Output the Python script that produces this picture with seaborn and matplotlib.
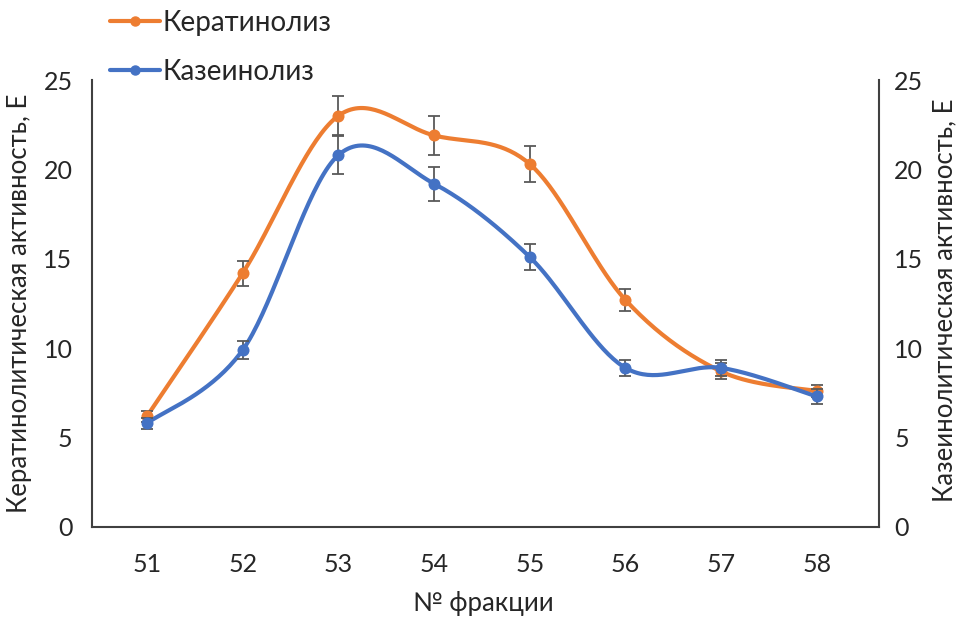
import numpy as np
import pandas as pd
import matplotlib
matplotlib.use("Agg")
import matplotlib.pyplot as plt
import seaborn as sns
from matplotlib.lines import Line2D

# Fractions and measured activities
fractions = ["51", "52", "53", "54", "55", "56", "57", "58"]
keratinolysis = [6.2, 14.2, 23.0, 21.9, 20.3, 12.7, 8.7, 7.6]
keratinolysis_err = [0.3, 0.7, 1.1, 1.1, 1.0, 0.6, 0.45, 0.35]
caseinolysis = [5.8, 9.9, 20.8, 19.2, 15.1, 8.9, 8.9, 7.3]
caseinolysis_err = [0.3, 0.5, 1.05, 0.95, 0.75, 0.45, 0.45, 0.4]

y_ticks = [0, 5, 10, 15, 20, 25]
label_left = "Кератинолитическая активность, Е"
label_right = "Казеинолитическая активность, Е"
label_x = "№ фракции"
name_k = "Кератинолиз"
name_c = "Казеинолиз"

ORANGE = "#ED7D31"
BLUE = "#4472C4"
ERR = "#595959"
TXT = "#262626"
FS_TICK = 18
FS_TITLE = 18.5
FS_LEG = 20

sns.set_theme(style="white")
plt.rcParams["font.family"] = ["Lato", "DejaVu Sans"]


def smooth_curve(xs, ys, n=40):
    """Catmull-Rom style cubic Bezier through every point."""
    xs = np.asarray(xs, float)
    ys = np.asarray(ys, float)
    P = np.column_stack([xs, ys])
    P_ext = np.vstack([P[0], P, P[-1]])
    out = []
    t = np.linspace(0, 1, n)[:, None]
    for i in range(len(P) - 1):
        p0, p1, p2, p3 = P_ext[i], P_ext[i + 1], P_ext[i + 2], P_ext[i + 3]
        b0 = p1
        b1 = p1 + (p2 - p0) / 6.0
        b2 = p2 - (p3 - p1) / 6.0
        b3 = p2
        seg = ((1 - t) ** 3) * b0 + 3 * ((1 - t) ** 2) * t * b1 + 3 * (1 - t) * t ** 2 * b2 + t ** 3 * b3
        out.append(seg if i == 0 else seg[1:])
    c = np.vstack(out)
    return pd.DataFrame({"x": c[:, 0], "y": c[:, 1]})


idx = np.arange(len(fractions))

W, H = 958, 619
fig = plt.figure(figsize=(W / 100, H / 100), dpi=100)
# plot area: x 92..879 px, y 80..527 px
ax = fig.add_axes([92 / W, 1 - 527 / H, (879 - 92) / W, (527 - 80) / H])
ax2 = ax.twinx()

# Keratinolysis on the left axis
sk = smooth_curve(idx, keratinolysis)
sns.lineplot(data=sk, x="x", y="y", sort=False, ax=ax, color=ORANGE, lw=3.0, zorder=3)
ax.errorbar(idx, keratinolysis, yerr=keratinolysis_err, fmt="none", ecolor=ERR,
            elinewidth=1.3, capsize=4.5, capthick=1.3, zorder=4)
sns.scatterplot(x=idx, y=keratinolysis, ax=ax, color=ORANGE, s=75, edgecolor=ORANGE,
                linewidth=0, zorder=5)

# Caseinolysis on the right axis
sc = smooth_curve(idx, caseinolysis)
sns.lineplot(data=sc, x="x", y="y", sort=False, ax=ax2, color=BLUE, lw=3.0, zorder=3)
ax2.errorbar(idx, caseinolysis, yerr=caseinolysis_err, fmt="none", ecolor=ERR,
             elinewidth=1.3, capsize=4.5, capthick=1.3, zorder=4)
sns.scatterplot(x=idx, y=caseinolysis, ax=ax2, color=BLUE, s=75, edgecolor=BLUE,
                linewidth=0, zorder=5)

for a in (ax, ax2):
    a.set_xlim(-0.575, 7.65)
    a.set_ylim(0, 25)
    a.set_yticks(y_ticks)
    a.set_xlabel("")
    a.set_ylabel("")
    for s in a.spines.values():
        s.set_visible(False)

ax.set_xticks(idx)
ax.set_xticklabels(fractions)
ax.spines["left"].set_visible(True)
ax.spines["bottom"].set_visible(True)
ax2.spines["right"].set_visible(True)
for a, side in ((ax, "left"), (ax, "bottom"), (ax2, "right")):
    a.spines[side].set_color("#404040")
    a.spines[side].set_linewidth(1.5)

ax.tick_params(axis="both", which="both", length=0, labelsize=FS_TICK, colors=TXT)
ax.tick_params(axis="y", pad=14)
ax.tick_params(axis="x", pad=19)
ax2.tick_params(axis="y", length=0, labelsize=FS_TICK, colors=TXT, pad=11)

# axis titles
fig.text(20 / W, 1 - 303 / H, label_left, rotation=90, ha="center", va="center",
         fontsize=FS_TITLE, color=TXT)
fig.text(945 / W, 1 - 300 / H, label_right, rotation=90, ha="center", va="center",
         fontsize=FS_TITLE, color=TXT)
fig.text(483 / W, 1 - 604 / H, label_x, ha="center", va="center",
         fontsize=FS_TITLE, color=TXT)

handles = [
    Line2D([0], [0], color=ORANGE, lw=3.0, marker="o", markersize=6.5),
    Line2D([0], [0], color=BLUE, lw=3.0, marker="o", markersize=6.5),
]
leg = fig.legend(handles, [name_k, name_c], loc="upper left",
                 bbox_to_anchor=(104 / W, 1 - 4 / H), frameon=False, fontsize=FS_LEG,
                 handlelength=1.8, handletextpad=0.1, labelspacing=0.85,
                 borderaxespad=0.0, borderpad=0.2)
for t in leg.get_texts():
    t.set_color(TXT)

fig.savefig("out.png", dpi=100)
